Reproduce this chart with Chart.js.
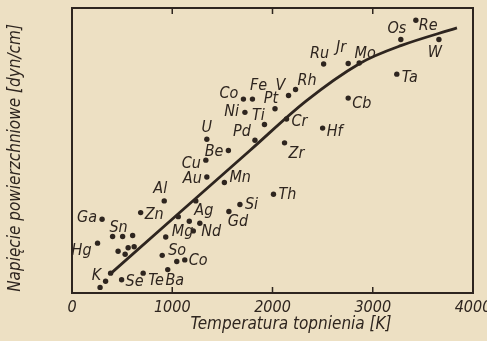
<!DOCTYPE html>
<html>
<head>
<meta charset="utf-8">
<script src="https://cdn.jsdelivr.net/npm/chart.js"></script>
<style>
  html, body { margin:0; padding:0; background:#ede0c3; }
  #wrap { width:487px; height:341px; position:relative; }
</style>
</head>
<body>
<div id="wrap"><canvas id="c"></canvas></div>
<script>
// labelled elements: melting point [K], surface tension [dyn/cm]
const names = ['Os','Re','W','Ru','Jr','Mo','Ta','Cb','Hf','Zr','Cr','Rh','V','Pt','Fe','Co','Ni','Ti','Pd','U',
  'Be','Cu','Au','Mn','Al','Zn','Ga','Sn','Hg','K','Se','Te','Ba','So','Co','Mg','Nd','Ag','Gd','Si','Th'];
const meltT = [3280,3430,3660,2510,2755,2865,3240,2755,2500,2120,2140,2230,2160,2025,1800,1710,1725,1920,1825,1345,
  1560,1335,1345,1520,920,685,300,405,255,335,495,710,955,900,1125,935,1210,1235,1565,1675,2010];
const surfT = [2490,2680,2490,2250,2255,2260,2150,1915,1620,1475,1710,2000,1940,1810,1905,1905,1775,1655,1500,1510,
  1400,1305,1140,1085,905,790,725,555,490,115,130,195,230,370,325,550,610,905,800,870,970];

// unlabelled points
const extraT = [1060,1170,1275,460,560,620,530,505,605,385,280,1045];
const extraV = [750,705,685,410,445,455,380,555,565,195,55,310];

// trend curve
const curveT = [380,1775,2340,2870,3280,3840];
const curveV = [185,1400,1890,2255,2430,2605];

const xTicks = [0,1000,2000,3000,4000];
const yTicks = [500,1000,1500,2000,2500];
const xTitle = 'Temperatura topnienia [K]';
const yTitle = 'Napięcie powierzchniowe [dyn/cm]';

const INK = '#2e251f';
const FONT = "'Liberation Sans Narrow', 'DejaVu Sans Condensed', sans-serif";

// label placement relative to dot: dx, dy, anchor (l = text starts, r = text ends, c = centred)
const labelPlacement = [
  [-4,-11,'c'],[3,6,'l'],[-4,13,'c'],[-4,-10,'c'],[-7,-16,'c'],[6,-9,'c'],[5,4,'l'],[4,6,'l'],[4,4,'l'],[4,11,'l'],
  [5,3,'l'],[2,-9,'l'],[-8,-10,'c'],[-4,-10,'c'],[6,-13,'c'],[-5,-5,'r'],[-6,0,'r'],[-6,-9,'c'],[-13,-8,'c'],[0,-11,'c'],
  [-5,1,'r'],[-5,4,'r'],[-5,2,'r'],[5,-5,'l'],[-4,-12,'c'],[4,2,'l'],[-5,-1,'r'],[6,-9,'c'],[-6,8,'r'],[-9,-5,'c'],
  [4,2,'l'],[5,8,'l'],[7,11,'c'],[6,-4,'l'],[4,1,'l'],[6,-5,'l'],[8,1,'l'],[8,10,'c'],[9,10,'c'],[5,0,'l'],[5,1,'l']
];

const elementLabels = {
  id:'elementLabels',
  afterDatasetsDraw(chart){
    const ctx = chart.ctx;
    const meta = chart.getDatasetMeta(1);
    ctx.save();
    ctx.font = 'italic 16px ' + FONT;
    ctx.fillStyle = INK;
    ctx.textBaseline = 'middle';
    meta.data.forEach((pt,i)=>{
      const [dx,dy,a] = labelPlacement[i];
      ctx.textAlign = a==='l' ? 'left' : a==='r' ? 'right' : 'center';
      ctx.fillText(names[i], pt.x+dx, pt.y+dy);
    });
    ctx.restore();
  }
};

// frame with inward ticks on all four sides, plus axis titles
const frame = {
  id:'frame',
  afterDraw(chart){
    const {ctx, chartArea:a, scales} = chart;
    ctx.save();
    ctx.strokeStyle = INK;
    ctx.lineWidth = 2;
    ctx.strokeRect(a.left, a.top, a.right-a.left, a.bottom-a.top);
    ctx.lineWidth = 1.5;
    ctx.beginPath();
    scales.x.ticks.forEach(t=>{
      if (t.value % 500) return;
      const px = scales.x.getPixelForValue(t.value);
      ctx.moveTo(px, a.bottom); ctx.lineTo(px, a.bottom-6);
      ctx.moveTo(px, a.top); ctx.lineTo(px, a.top+6);
    });
    scales.y.ticks.forEach(t=>{
      if (t.value % 500 || t.value===0) return;
      const py = scales.y.getPixelForValue(t.value);
      ctx.moveTo(a.left, py); ctx.lineTo(a.left+6, py);
      ctx.moveTo(a.right, py); ctx.lineTo(a.right-6, py);
    });
    ctx.stroke();

    ctx.fillStyle = INK;
    ctx.font = 'italic 17px ' + FONT;
    ctx.textAlign = 'center';
    ctx.textBaseline = 'middle';
    ctx.fillText(xTitle, 291, 325);
    ctx.translate(16, 158);
    ctx.rotate(-Math.PI/2);
    ctx.fillText(yTitle, 0, 0);
    ctx.restore();
  }
};

new Chart(document.getElementById('c'), {
  type:'scatter',
  data:{
    datasets:[
      {
        data: curveT.map((t,i)=>({x:t, y:curveV[i]})),
        showLine:true, pointRadius:0, borderColor:INK, borderWidth:2.8,
        tension:0.35, fill:false
      },
      {
        data: meltT.map((t,i)=>({x:t, y:surfT[i]})),
        pointRadius:2.7, pointBackgroundColor:INK, pointBorderWidth:0
      },
      {
        data: extraT.map((t,i)=>({x:t, y:extraV[i]})),
        pointRadius:2.7, pointBackgroundColor:INK, pointBorderWidth:0
      }
    ]
  },
  options:{
    responsive:true, maintainAspectRatio:false, animation:false,
    layout:{padding:{left:0, top:8, right:14, bottom:0}},
    plugins:{legend:{display:false}, tooltip:{enabled:false}},
    scales:{
      x:{
        type:'linear', min:0, max:4000,
        grid:{display:false, drawTicks:false}, border:{display:false},
        ticks:{stepSize:500, padding:5, color:INK, maxRotation:0, autoSkip:false,
          font:{family:FONT, size:16, style:'italic'},
          callback:v=> xTicks.includes(v) ? String(v) : null},
        afterFit:s=>{ s.height = 48; s.paddingLeft = 0; s.paddingRight = 0; }
      },
      y:{
        type:'linear', min:0, max:2800,
        grid:{display:false, drawTicks:false}, border:{display:false},
        ticks:{stepSize:500, padding:5, color:INK, autoSkip:false,
          font:{family:FONT, size:16, style:'italic'},
          callback:v=> yTicks.includes(v) ? String(v) : null},
        afterFit:s=>{ s.width = 72; s.paddingTop = 0; s.paddingBottom = 0; }
      }
    }
  },
  plugins:[elementLabels, frame]
});
</script>
</body>
</html>
